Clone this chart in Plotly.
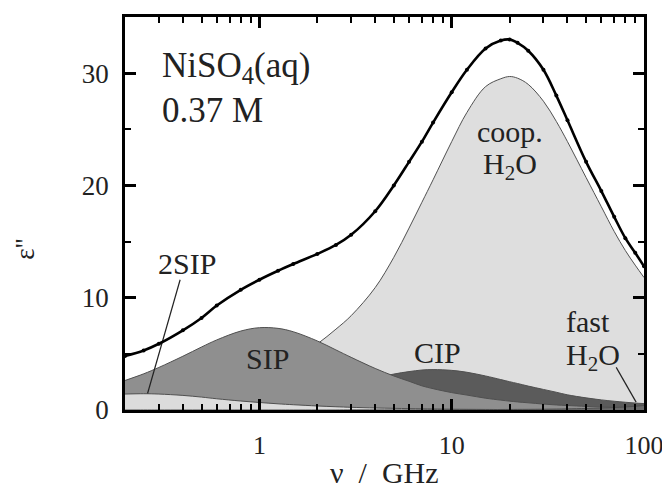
import math
import plotly.graph_objects as go

# frequency grid (GHz)
freq = [0.2, 0.25, 0.3, 0.4, 0.5, 0.6, 0.8, 1, 1.25, 1.5, 2, 2.5, 3, 4, 5, 6, 7, 8,
        10, 12, 15, 18, 20, 22, 25, 30, 35, 40, 50, 60, 70, 80, 90, 100]

# total dielectric loss (measured + fit)
eps_total = [4.8, 5.3, 5.9, 7.1, 8.2, 9.3, 10.7, 11.6, 12.4, 13.0, 13.9, 14.7, 15.6, 17.7,
             20.0, 22.1, 23.9, 25.6, 28.3, 30.3, 32.2, 32.9, 33.0, 32.7, 32.0, 30.3, 28.0,
             25.8, 22.1, 19.5, 17.2, 15.3, 14.0, 12.8]

# relaxation components
eps_coop = [0.59, 0.74, 0.89, 1.19, 1.48, 1.78, 2.37, 2.96, 3.7, 4.43, 5.88, 7.2, 8.4, 10.9,
            13.6, 16.2, 18.5, 20.5, 23.9, 26.5, 28.8, 29.5, 29.7, 29.55, 29.0, 27.5, 25.7,
            23.9, 20.7, 18.1, 15.9, 14.2, 12.9, 11.8]
eps_sip = [2.63, 3.22, 3.79, 4.79, 5.61, 6.24, 7.03, 7.33, 7.27, 6.97, 6.15, 5.35, 4.69, 3.70,
           3.03, 2.56, 2.15, 1.9, 1.55, 1.33, 1.05, 0.88, 0.79, 0.72, 0.64, 0.53, 0.45,
           0.40, 0.32, 0.26, 0.23, 0.20, 0.18, 0.16]
eps_cip = [0.18, 0.22, 0.26, 0.35, 0.44, 0.52, 0.69, 0.86, 1.07, 1.27, 1.66, 2.01, 2.32, 2.84,
           3.2, 3.42, 3.56, 3.6, 3.53, 3.36, 3.03, 2.71, 2.52, 2.36, 2.13, 1.83, 1.58,
           1.35, 1.08, 0.9, 0.78, 0.69, 0.62, 0.57]
eps_2sip = [1.42, 1.45, 1.42, 1.3, 1.15, 1.0, 0.8, 0.67, 0.55, 0.47, 0.36, 0.29, 0.24, 0.18,
            0.15, 0.12, 0.1, 0.09, 0.07, 0.06, 0.05, 0.04, 0.04, 0.03, 0.03, 0.02, 0.02,
            0.02, 0.01, 0.01, 0.01, 0.01, 0.01, 0.01]
eps_fast = [0.0, 0.0, 0.0, 0.0, 0.0, 0.0, 0.0, 0.0, 0.0, 0.0, 0.0, 0.0, 0.01, 0.01,
            0.01, 0.01, 0.01, 0.02, 0.02, 0.03, 0.035, 0.045, 0.05, 0.055, 0.06, 0.07, 0.085,
            0.1, 0.14, 0.18, 0.22, 0.27, 0.33, 0.4]

x_ticks = [1, 10, 100]
x_tick_text = ["1", "10", "100"]
y_ticks = [0, 10, 20, 30]

# callout lines: (freq, eps) start -> end
callout_2sip_f = [0.387, 0.262]
callout_2sip_e = [11.6, 1.47]
callout_fast_f = [71.7, 91.0]
callout_fast_e = [3.8, 0.7]

FONT = "Liberation Serif"
TXT = "#222222"

fig = go.Figure()

def comp(y, fillcol):
    fig.add_trace(go.Scatter(
        x=freq, y=y, mode="lines", fill="tozeroy", fillcolor=fillcol,
        line=dict(color="#505050", width=1, shape="spline", smoothing=1.0),
        hoverinfo="skip", showlegend=False))

comp(eps_coop, "#dedede")
comp(eps_cip, "#5b5b5b")
comp(eps_sip, "#8f8f8f")
comp(eps_2sip, "#dcdcdc")
comp(eps_fast, "#6a6a6a")

for fx, ey in ((callout_2sip_f, callout_2sip_e), (callout_fast_f, callout_fast_e)):
    fig.add_trace(go.Scatter(x=fx, y=ey, mode="lines",
                             line=dict(color="#222222", width=1.2),
                             hoverinfo="skip", showlegend=False))

fig.add_trace(go.Scatter(
    x=freq, y=eps_total, mode="lines+markers",
    line=dict(color="black", width=2.6, shape="spline", smoothing=1.0),
    marker=dict(color="black", size=4),
    hoverinfo="skip", showlegend=False))

minor_x = [0.3, 0.4, 0.5, 0.6, 0.7, 0.8, 0.9, 2, 3, 4, 5, 6, 7, 8, 9,
           20, 30, 40, 50, 60, 70, 80, 90]

fig.update_xaxes(
    type="log", range=[math.log10(0.2), 2],
    tickvals=x_ticks, ticktext=x_tick_text,
    ticks="inside", ticklen=11, tickwidth=2.5, tickcolor="black",
    minor=dict(tickvals=minor_x, ticks="inside", ticklen=6, tickwidth=2, tickcolor="black"),
    showline=True, linewidth=2.5, linecolor="black", mirror="allticks",
    showgrid=False, zeroline=False, ticklabeloverflow="allow",
    tickfont=dict(family=FONT, size=26, color=TXT), ticklabelstandoff=10)

fig.update_yaxes(
    range=[0, 35], tickvals=y_ticks,
    ticks="inside", ticklen=11, tickwidth=2.5, tickcolor="black",
    minor=dict(tickvals=[5, 15, 25], ticks="inside", ticklen=6, tickwidth=2, tickcolor="black"),
    showline=True, linewidth=2.5, linecolor="black", mirror="allticks",
    showgrid=False, zeroline=False,
    tickfont=dict(family=FONT, size=27, color=TXT), ticklabelstandoff=8)

def lab(text, x, y, size=30, xanchor="center", angle=0):
    fig.add_annotation(text=text, x=x, y=y, xref="paper", yref="paper",
                       xanchor=xanchor, yanchor="middle", showarrow=False,
                       textangle=angle,
                       font=dict(family=FONT, size=size, color=TXT))

lab("NiSO<sub>4</sub>(aq)", 0.067, 0.872, size=35, xanchor="left")
lab("0.37 M", 0.067, 0.762, size=35, xanchor="left")
lab("coop.", 0.742, 0.708, size=30)
lab("H<sub>2</sub>O", 0.742, 0.622, size=30)
lab("SIP", 0.275, 0.131)
lab("CIP", 0.602, 0.146)
lab("2SIP", 0.120, 0.374)
lab("fast", 0.893, 0.225)
lab("H<sub>2</sub>O", 0.902, 0.135)
lab("\u03bd\u00a0\u00a0/\u00a0\u00a0GHz", 0.5, -0.159, size=30)
lab("\u03b5''", -0.193, 0.41, size=27, angle=-90)

# the page body keeps an 8px default margin: offset the figure accordingly
fig.update_layout(
    width=662, height=480,
    margin=dict(l=117, r=22, t=6, b=78),
    paper_bgcolor="white", plot_bgcolor="white",
    hovermode=False, showlegend=False)

fig.write_html("out.html")
